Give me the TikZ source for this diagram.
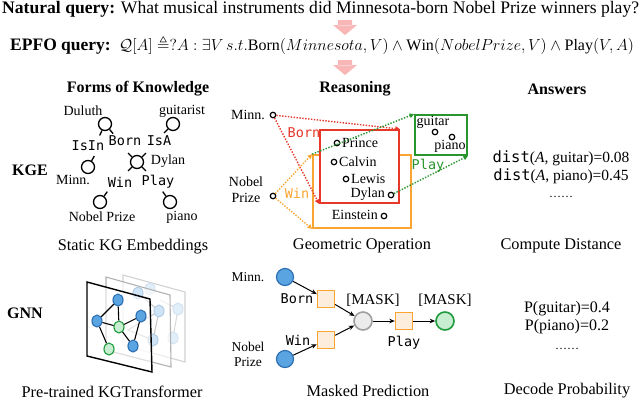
\documentclass[tikz,border=0pt]{standalone}
\usepackage{fix-cm}
\usepackage{amsmath,amssymb}
\usepackage{fontspec}
\setmainfont{Liberation Serif}
\setmonofont{DejaVu Sans Mono}
\usetikzlibrary{arrows.meta,shapes.geometric}
\definecolor{pinkA}{RGB}{248,182,182}
\definecolor{myred}{RGB}{230,55,40}
\definecolor{myorange}{RGB}{250,165,50}
\definecolor{mygreen}{RGB}{40,150,45}
\definecolor{blueF}{RGB}{90,165,225}
\definecolor{blueD}{RGB}{45,110,180}
\definecolor{orF}{RGB}{253,237,220}
\definecolor{greF}{RGB}{200,238,210}
\definecolor{greD}{RGB}{30,155,60}
\begin{document}
\begin{tikzpicture}[x=1pt,y=-1pt,
  txt/.style={font=\fontsize{14}{16}\selectfont, inner sep=0pt},
  captxt/.style={font=\fontsize{16.3}{19}\selectfont, inner sep=0pt},
  headtxt/.style={font=\fontsize{16}{19}\selectfont\bfseries, inner sep=0pt},
  mono/.style={font=\fontsize{13.5}{16}\selectfont\ttfamily, inner sep=0pt},
  kgn/.style={circle, draw, line width=1.3pt, minimum size=13pt, inner sep=0pt},
  ticks/.style={line width=1.3pt},
  rdot/.style={circle, draw, line width=1.2pt, minimum size=5.5pt, inner sep=0pt, fill=white},
  dots/.style={line width=1.4pt, dash pattern=on 1.4pt off 1.5pt, -{Triangle[length=4.5pt,width=4.5pt]}},
  bnode/.style={circle, draw=blueD, fill=blueF, line width=1.2pt, minimum size=17pt, inner sep=0pt},
  osq/.style={draw=myorange, fill=orF, line width=1.4pt, minimum size=17pt, inner sep=0pt},
  blk/.style={line width=1pt, -{Stealth[length=5.5pt,width=4.5pt]}},
  fnb/.style={ellipse, draw=blueD, fill=blueF, line width=1.1pt, minimum width=10pt, minimum height=12pt, inner sep=0pt},
  fng/.style={ellipse, draw=greD, fill=greF, line width=1.1pt, minimum width=10pt, minimum height=12pt, inner sep=0pt},
  pnode/.style={ellipse, draw=blueD!35, fill=blueF!30, line width=1pt, minimum width=10pt, minimum height=12pt, inner sep=0pt},
  fedge/.style={line width=1.1pt}
]
\useasboundingbox (0,0) rectangle (640,400);

% ---------- top lines ----------
\node[anchor=base west, font=\fontsize{17.6}{20}\selectfont, inner sep=0pt] (nq) at (2,13.5)
  {\textbf{Natural query:} What musical instruments did Minnesota-born Nobel Prize winners play?};
\node[anchor=base west, font=\fontsize{17.5}{20}\selectfont\bfseries, inner sep=0pt] (eqlab) at (10,50) {EPFO query:};
\node[anchor=base west, font=\fontsize{16}{19}\selectfont, inner sep=0pt] (eq) at (119,50)
  {$\mathcal{Q}[A]\triangleq ?A:\exists V\,s.t.\mathrm{Born}(Minnesota,V)\wedge\mathrm{Win}(NobelPrize,V)\wedge\mathrm{Play}(V,A)$};

% pink arrows
\fill[pinkA] (338,20) rectangle (352,25.5) (333,25) -- (357,25) -- (345,35) -- cycle;
\fill[pinkA] (338,60) rectangle (352,65.5) (333,65) -- (357,65) -- (345,75) -- cycle;

% ---------- headings ----------
\node[headtxt] (h1) at (138,89) {Forms of Knowledge};
\node[headtxt] (h2) at (355,89) {Reasoning};
\node[headtxt] (h3) at (557,89) {Answers};
\node[headtxt] (kge) at (30,170) {KGE};
\node[headtxt] (gnn) at (25,313) {GNN};

% ---------- KGE ----------
\node[kgn] (du) at (105,124) {};
\node[kgn] (gu) at (173,124) {};
\node[kgn] (mi) at (88,167) {};
\node[kgn] (dy) at (137,162) {};
\node[kgn] (nb) at (100,202) {};
\node[kgn] (pi) at (170,202) {};
\node[txt] (tdu) at (83,111) {Duluth};
\node[txt] (tgu) at (182,111) {guitarist};
\node[txt] (tmi) at (73,180) {Minn.};
\node[txt] (tdy) at (168,161) {Dylan};
\node[txt] (tnb) at (102,217) {Nobel Prize};
\node[txt] (tpi) at (182,217) {piano};
\node[mono] (lisin) at (88,146) {IsIn};
\node[mono] (lborn) at (125,141) {Born};
\node[mono] (lisa) at (159,141) {IsA};
\node[mono] (lwin) at (120,182) {Win};
\node[mono] (lplay) at (158,182) {Play};
\draw[ticks] (du.245) -- ++(245:5.5pt);
\draw[ticks] (du.310) -- ++(310:5.5pt);
\draw[ticks] (gu.225) -- ++(225:5.5pt);
\draw[ticks] (mi.60) -- ++(60:5.5pt);
\foreach \a in {45,135,225,315} \draw[ticks] (dy.\a) -- ++(\a:5.5pt);
\draw[ticks] (nb.55) -- ++(55:5.5pt);
\draw[ticks] (pi.125) -- ++(125:5.5pt);
\node[captxt] (c1) at (133,247) {Static KG Embeddings};

% ---------- Reasoning ----------
\node[draw=myorange, line width=1.8pt, minimum width=98pt, minimum height=73pt, inner sep=0pt] (obox) at (362,191.5) {};
\node[draw=myred, fill=white, line width=1.8pt, minimum width=79pt, minimum height=73pt, inner sep=0pt] (rbox) at (359.5,166.5) {};
\node[draw=mygreen, line width=1.8pt, minimum width=52pt, minimum height=40pt, inner sep=0pt] (gbox) at (441,135) {};
\node[txt] (rmi) at (248,115) {Minn.};
\node[rdot] (dmi) at (273,115) {};
\node[txt, align=center, font=\fontsize{14}{16}\selectfont] (rnb) at (246,190) {Nobel\\Prize};
\node[rdot] (dnb) at (273,196) {};
\node[rdot] (dpr) at (337,143) {};
\node[txt, anchor=west] (tpr) at (342,143) {Prince};
\node[rdot] (dca) at (334,162) {};
\node[txt, anchor=west] (tca) at (339,162) {Calvin};
\node[rdot] (dle) at (346,179) {};
\node[txt, anchor=west] (tle) at (351,179) {Lewis};
\node[rdot] (ddy) at (391,195) {};
\node[txt, anchor=east] (tdy2) at (385,194) {Dylan};
\node[rdot] (dei) at (384,216) {};
\node[txt, anchor=east] (tei) at (378,215) {Einstein};
\node[txt] (tgt) at (433,122) {guitar};
\node[rdot] (dgt) at (435,132) {};
\node[rdot] (dpn) at (452,137) {};
\node[txt] (tpn) at (450,146) {piano};
\node[mono, text=myred] (rborn) at (304,133) {Born};
\node[mono, text=myorange] (rwin) at (297,193) {Win};
\node[mono, text=mygreen] (rplay) at (428,166) {Play};
\draw[dots, myred] (dmi) -- (rbox.north east);
\draw[dots, myred] (dmi) -- (rbox.south west);
\draw[dots, myorange] (dnb) -- (obox.north west);
\draw[dots, myorange] (dnb) -- (obox.south west);
\draw[dots, mygreen] (obox.north west) -- (gbox.north west);
\draw[dots, mygreen] (ddy) -- (gbox.south east);
\node[captxt] (c2) at (362,246) {Geometric Operation};

% ---------- Answers (KGE) ----------
\node[font=\fontsize{15.5}{18}\selectfont, inner sep=0pt] (a1) at (561,158) {\texttt{dist}(\textit{A}, guitar)=0.08};
\node[font=\fontsize{15.5}{18}\selectfont, inner sep=0pt] (a2) at (561,176) {\texttt{dist}(\textit{A}, piano)=0.45};
\node[font=\fontsize{12}{14}\selectfont, inner sep=0pt] (a3) at (561,197) {\textellipsis\textellipsis};
\node[captxt] (c3) at (561,246) {Compute Distance};

% ---------- GNN planes ----------
\draw[gray!35, line width=1.1pt, fill=white] (123,275) -- (185,292) -- (185,362) -- (123,345) -- cycle;
\draw[gray!30, line width=1pt] (160,300) -- (178,309) (173,338) -- (178,309);
\node[pnode, draw=blueD!20, fill=blueF!18] (q1) at (178,309) {};
\node[pnode, draw=blueD!20, fill=blueF!18] (q2) at (173,338) {};
\node[pnode, draw=blueD!20, fill=blueF!18] (q3) at (150,289) {};
\draw[gray!60, line width=1.1pt, fill=white, fill opacity=0.6] (106,277) -- (170,295) -- (171,367) -- (106,350) -- cycle;
\draw[gray!45, line width=1pt] (138,293) -- (159,311) -- (153,340) (159,311) -- (128,330) (153,340) -- (128,330);
\node[pnode] (p1) at (138,293) {};
\node[pnode] (p2) at (159,311) {};
\node[pnode] (p3) at (153,340) {};
\draw[black, line width=1.4pt, fill=white, fill opacity=0.55] (87,282) -- (150,299) -- (152,372) -- (87,356) -- cycle;
\node[fnb] (g1) at (118,300) {};
\node[fnb] (g2) at (97,321) {};
\node[fnb] (g3) at (141,316) {};
\node[fng] (g4) at (119,327) {};
\node[fnb] (g5) at (133,346) {};
\node[fng] (g6) at (109,349) {};
\draw[fedge] (g2) -- (g1);
\draw[fedge] (g2) -- (g4);
\draw[fedge] (g1) -- (g4);
\draw[fedge] (g4) -- (g3);
\draw[fedge] (g3) -- (g5);
\draw[fedge] (g4) -- (g5);
\draw[fedge] (g2) -- (g6);
\node[captxt] (c4) at (112,392) {Pre-trained KGTransformer};

% ---------- Masked prediction ----------
\node[txt, font=\fontsize{13.5}{15.5}\selectfont] (mmi) at (248,277) {Minn.};
\node[txt, align=center, font=\fontsize{13.5}{15}\selectfont] (mnb) at (248,354) {Nobel\\Prize};
\node[bnode] (b1) at (285,277) {};
\node[bnode] (b2) at (285,359) {};
\node[osq] (sb) at (326,299) {};
\node[osq] (sw) at (326,340) {};
\node[circle, draw=gray!75, fill=gray!15, line width=1.6pt, minimum size=18pt, inner sep=0pt] (gm) at (363,321) {};
\node[osq] (sp) at (404,321) {};
\node[circle, draw=greD, fill=greF, line width=1.6pt, minimum size=18pt, inner sep=0pt] (gg) at (445,321) {};
\node[mono] (mborn) at (297,299) {Born};
\node[mono] (mwin) at (298,340) {Win};
\node[mono] (mplay) at (404,343) {Play};
\node[font=\fontsize{15}{18}\selectfont, inner sep=0pt] (mk1) at (373,300) {[MASK]};
\node[font=\fontsize{15}{18}\selectfont, inner sep=0pt] (mk2) at (445,300) {[MASK]};
\draw[blk] (b1) -- (sb);
\draw[blk] (b2) -- (sw);
\draw[blk] (sb) -- (gm);
\draw[blk] (sw) -- (gm);
\draw[blk] (gm) -- (sp);
\draw[blk] (sp) -- (gg);
\node[captxt] (c5) at (368,391) {Masked Prediction};

% ---------- Answers (GNN) ----------
\node[font=\fontsize{16}{19}\selectfont, inner sep=0pt] (b1t) at (567,309) {P(guitar)=0.4};
\node[font=\fontsize{16}{19}\selectfont, inner sep=0pt] (b2t) at (567,327) {P(piano)=0.2};
\node[font=\fontsize{12}{14}\selectfont, inner sep=0pt] (b3t) at (567,349) {\textellipsis\textellipsis};
\node[captxt] (c6) at (567,391) {Decode Probability};
\end{tikzpicture}
\end{document}
